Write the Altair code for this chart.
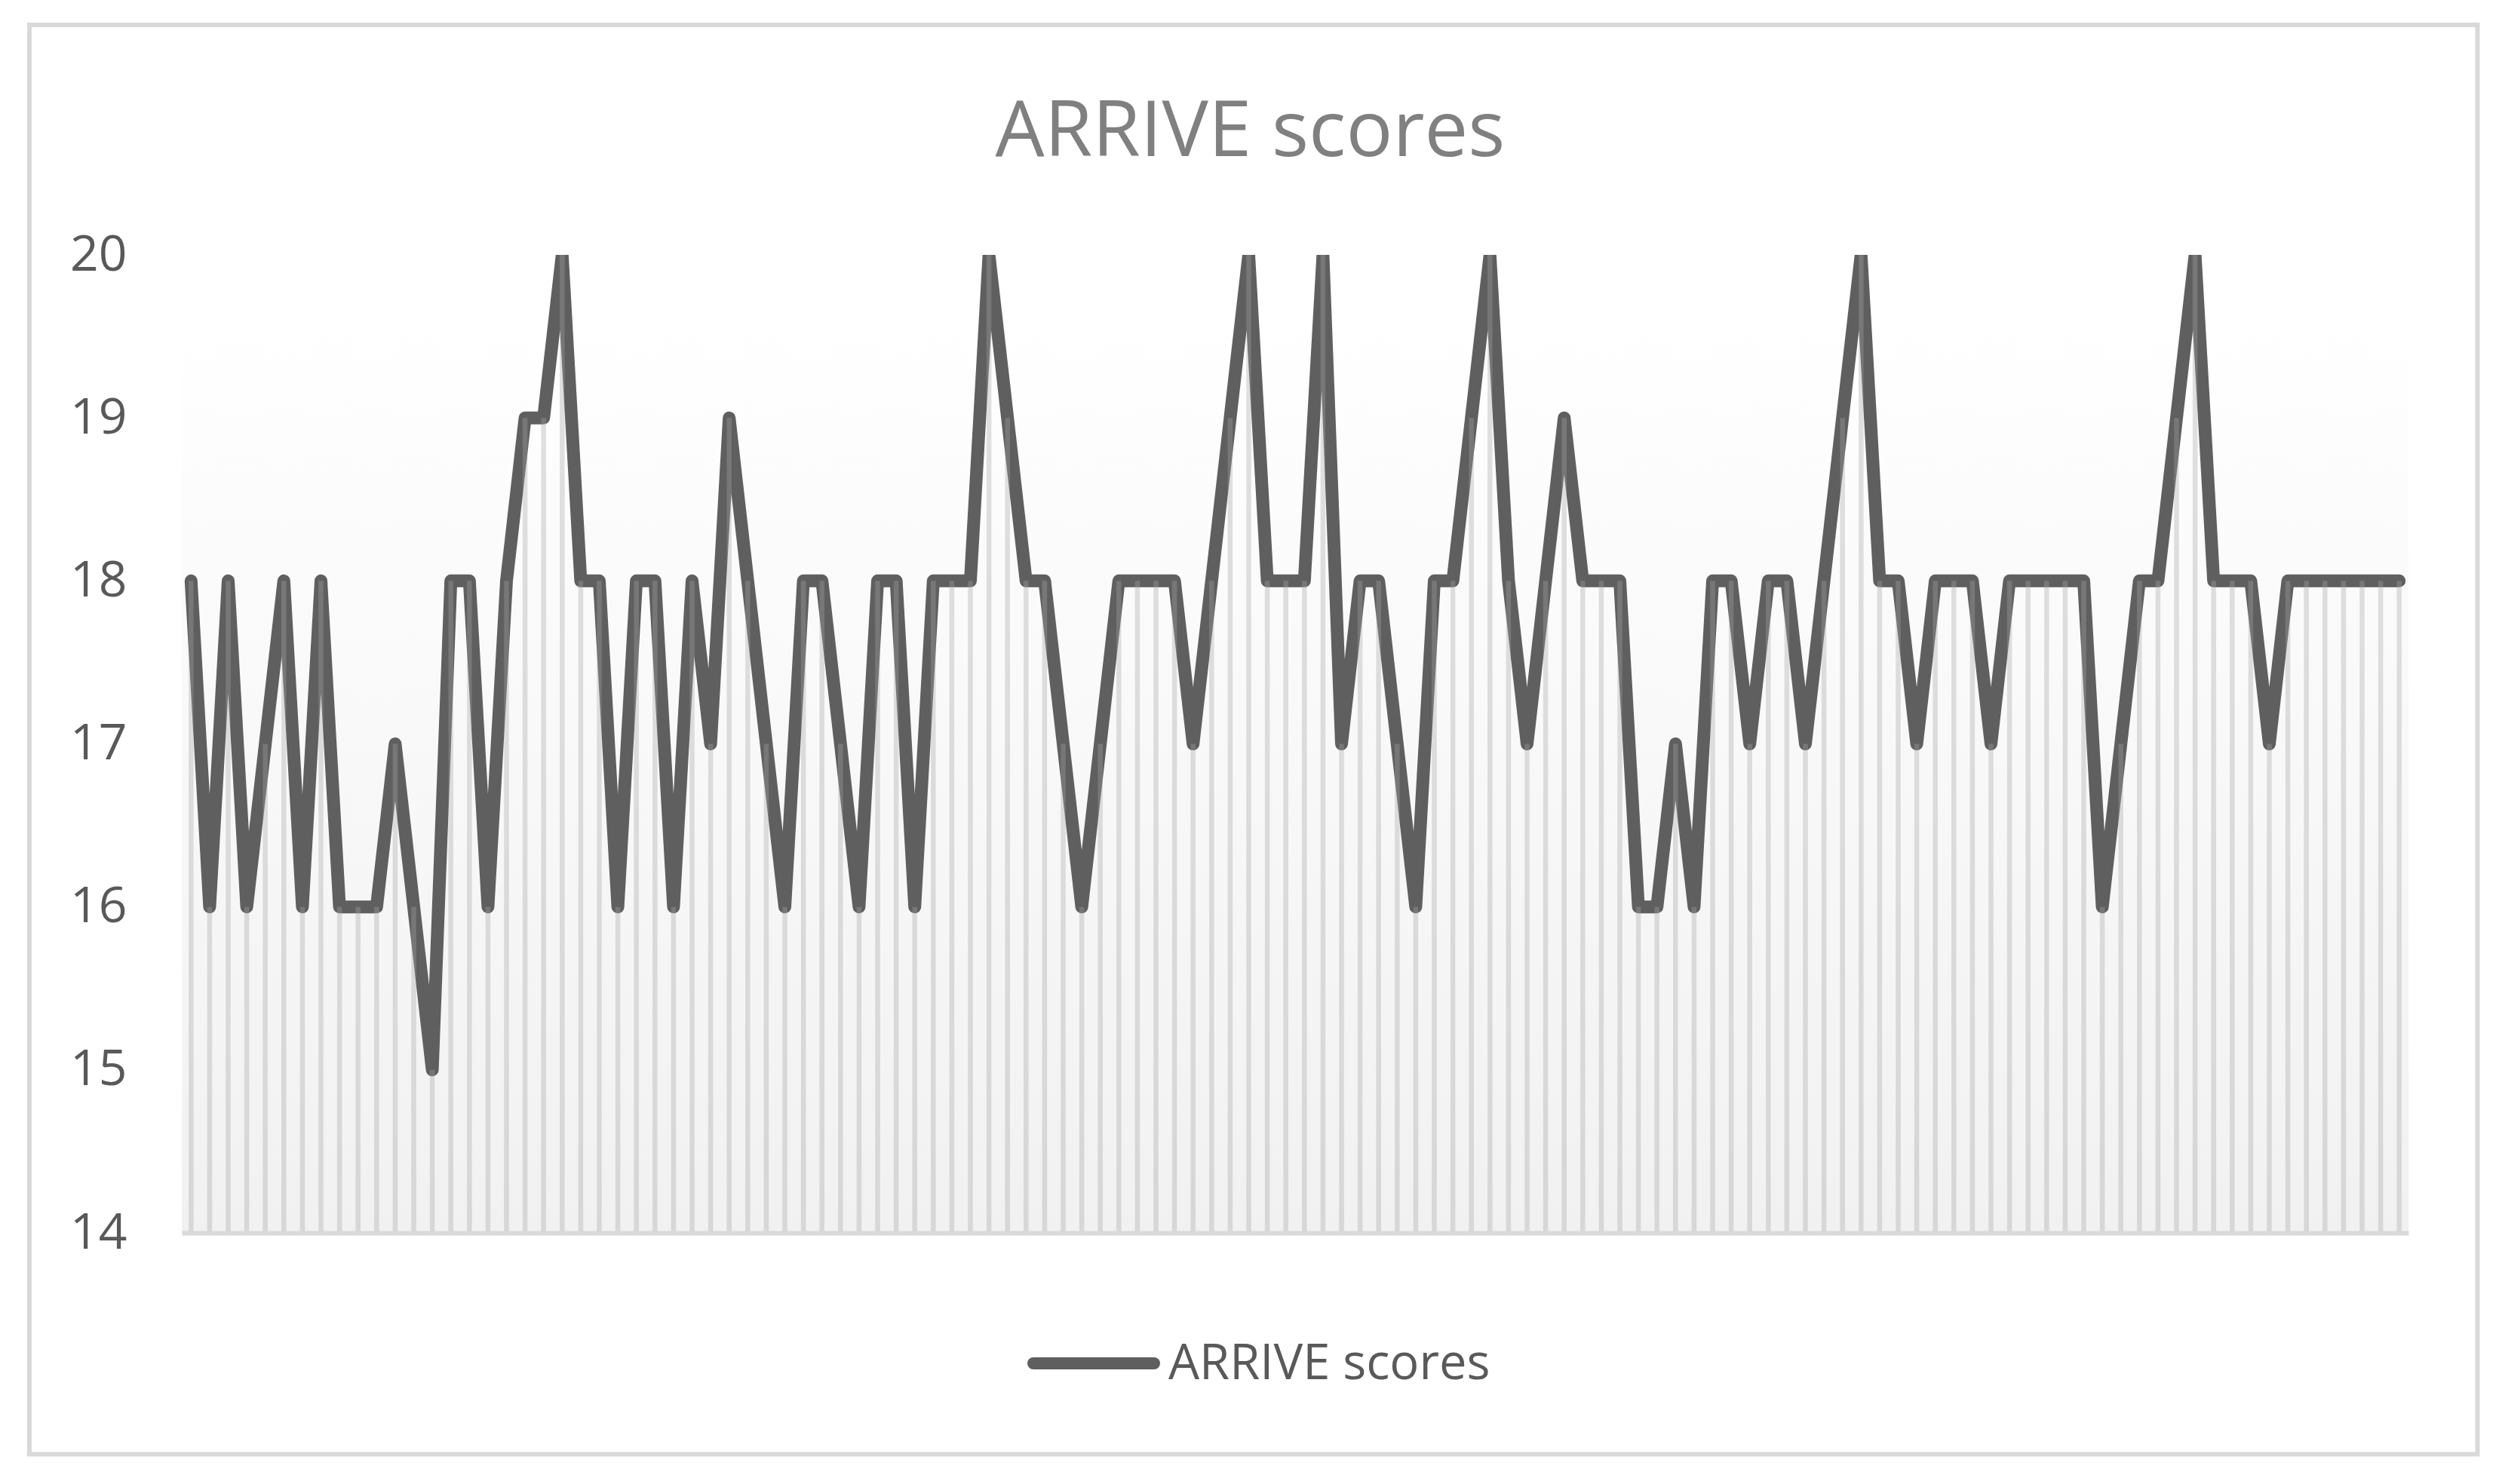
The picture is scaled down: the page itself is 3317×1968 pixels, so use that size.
import altair as alt
import pandas as pd

# ---- data ----
TITLE = "ARRIVE scores"
SERIES = "ARRIVE scores"
Y_TICKS = [14, 15, 16, 17, 18, 19, 20]

scores_1_21 = [18, 16, 18, 16, 17, 18, 16, 18, 16, 16, 16, 17, 16, 15, 18, 18, 16, 18, 19, 19, 20]
scores_22_41 = [18, 18, 16, 18, 18, 16, 18, 17, 19, 18, 17, 16, 18, 18, 17, 16, 18, 18, 16, 18]
scores_42_61 = [18, 18, 20, 19, 18, 18, 17, 16, 17, 18, 18, 18, 18, 17, 18, 19, 20, 18, 18, 18]
scores_62_82 = [20, 17, 18, 18, 17, 16, 18, 18, 19, 20, 18, 17, 18, 19, 18, 18, 18, 16, 16, 17, 16]
scores_83_102 = [18, 18, 17, 18, 18, 17, 18, 19, 20, 18, 18, 17, 18, 18, 18, 17, 18, 18, 18, 18]
scores_103_120 = [18, 16, 17, 18, 18, 19, 20, 18, 18, 18, 17, 18, 18, 18, 18, 18, 18, 18]

scores = (scores_1_21 + scores_22_41 + scores_42_61 + scores_62_82
          + scores_83_102 + scores_103_120)

df = pd.DataFrame({"study": list(range(1, len(scores) + 1)), "score": scores})
one = pd.DataFrame({"label": [SERIES]})
title_df = pd.DataFrame({"label": [TITLE]})

W, H = 2952, 1297
FONT = "Open Sans"

x_enc = alt.X(
    "study:Q",
    scale=alt.Scale(domain=[0.5, len(scores) + 0.5], nice=False, zero=False),
    axis=alt.Axis(labels=False, ticks=False, grid=False, title=None,
                  domainColor="#d9d9d9", domainWidth=6, zindex=1),
)
y_enc = alt.Y(
    "score:Q",
    scale=alt.Scale(domain=[14, 20], nice=False, zero=False),
    axis=alt.Axis(values=Y_TICKS, format="d", grid=False, domain=False, ticks=False,
                  labelPadding=73, labelFontSize=66, labelFont=FONT,
                  labelColor="#595959", title=None),
)

bg = alt.Chart(one).mark_rect(
    fill={"gradient": "linear", "x1": 0, "x2": 0, "y1": 0, "y2": 1,
          "stops": [{"offset": 0, "color": "#ffffff"},
                    {"offset": 0.06, "color": "#ffffff"},
                    {"offset": 1, "color": "#f1f1f1"}]},
).encode(x=alt.value(0), x2=alt.value(W), y=alt.value(0), y2=alt.value(H))

line = alt.Chart(df).mark_line(
    color="#5f5f5f", strokeWidth=17, strokeJoin="round", strokeCap="round", clip=True
).encode(x=x_enc, y=y_enc)

drops = alt.Chart(df).mark_rule(
    color="#a5a5a5", opacity=0.35, strokeWidth=6.5
).encode(x=x_enc, y=y_enc, y2=alt.datum(14))

title = alt.Chart(title_df).mark_text(
    font=FONT, fontSize=103, color="#808080", align="center", baseline="alphabetic"
).encode(x=alt.value(1416.5), y=alt.value(-131), text="label:N")

leg_sym = alt.Chart(one).mark_rule(
    color="#5f5f5f", strokeWidth=16, strokeCap="round"
).encode(x=alt.value(1129), x2=alt.value(1289), y=alt.value(1470))

leg_txt = alt.Chart(one).mark_text(
    font=FONT, fontSize=65, color="#595959", align="left", baseline="alphabetic"
).encode(x=alt.value(1308), y=alt.value(1491), text="label:N")

border = alt.Chart(one).mark_rect(
    fillOpacity=0, stroke="#d9d9d9", strokeWidth=6
).encode(x=alt.value(-202), x2=alt.value(3043.5), y=alt.value(-305), y2=alt.value(1590.5))

chart = alt.layer(bg, line, drops, title, leg_sym, leg_txt, border).properties(
    width=W, height=H,
    padding={"left": 233, "top": 330, "right": 100, "bottom": 305},
    autosize="none",
).configure_view(strokeWidth=0)

chart.save("out.html", embed_options={"renderer": "svg", "actions": False})
